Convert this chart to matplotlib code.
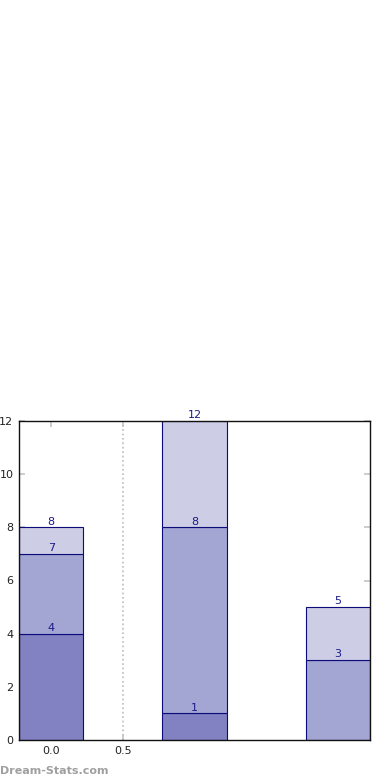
import matplotlib
matplotlib.use("Agg")
import matplotlib.pyplot as plt
import numpy as np

positions = [0, 1, 2]
layer1 = [4, 1, 0]
layer2 = [3, 7, 3]
layer3 = [1, 4, 2]
xtick_vals = [0.0, 0.5]
xtick_labels = ["0.0", "0.5"]
yticks = [0, 2, 4, 6, 8, 10, 12]

colors = ["#8282c2", "#a3a5d2", "#cdcde5"]
edge = "#0b0b7a"
label_color = "#1a1a8c"

fig = plt.figure(figsize=(3.9, 7.8), dpi=100)
ax = fig.add_axes([19/390, 40/780, 351/390, 319/780])

width = 0.45
bottom = np.zeros(3)
for vals, c in zip([layer1, layer2, layer3], colors):
    vals = np.array(vals, dtype=float)
    ax.bar(positions, vals, width, bottom=bottom, color=c, edgecolor=edge,
           linewidth=0.8, zorder=2)
    tops = bottom + vals
    for x, v, t in zip(positions, vals, tops):
        if v > 0:
            ax.text(x, t + 0.03, f"{int(t)}", ha="center", va="bottom",
                    fontsize=8, color=label_color, zorder=3)
    bottom = tops

ax.set_xlim(-0.225, 2.225)
ax.set_ylim(0, 12)
ax.set_xticks(xtick_vals)
ax.set_xticklabels(xtick_labels)
ax.set_yticks(yticks)
ax.tick_params(axis="both", direction="in", length=4, width=1.2, color="#c4c4c4",
               labelsize=8, top=True, right=True, pad=4, labelcolor="#222222")
ax.axvline(0.5, linestyle=":", color="#bbbbbb", linewidth=1.2, zorder=0)
for s in ax.spines.values():
    s.set_color("#111111")
    s.set_linewidth(1.0)
    s.set_zorder(4)

fig.text(0.0, 9/780, "Dream-Stats.com", fontsize=8, fontweight="bold",
         color="#a0a0a0", ha="left", va="center")

fig.savefig("out.png", dpi=100)
